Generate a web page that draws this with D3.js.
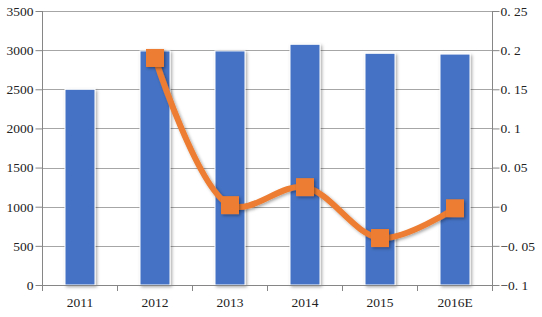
<!DOCTYPE html>
<html><head><meta charset="utf-8">
<script src="https://cdn.jsdelivr.net/npm/d3@7"></script>
<style>body{margin:0;background:#fff}svg{display:block}</style>
</head><body>
<svg id="c" width="542" height="317"></svg>
<script>
const categories = ["2011","2012","2013","2014","2015","2016E"];
const barValues = [2500, 2990, 2990, 3075, 2960, 2950];
const lineValues = [null, 0.19, 0.002, 0.025, -0.04, -0.002];
const leftTicks = [0,500,1000,1500,2000,2500,3000,3500];
const rightTicks = [-0.1,-0.05,0,0.05,0.1,0.15,0.2,0.25];

const svg = d3.select("#c");
const L = 42.5, R = 492.5, T = 11, B = 285;
const x = d3.scaleBand().domain(categories).range([L, R]).paddingInner(0.6).paddingOuter(0.3);
const xb = d3.scaleBand().domain(categories).range([L, R]);
const y = d3.scaleLinear().domain([0,3500]).range([B, T]);
const y2 = d3.scaleLinear().domain([-0.1,0.25]).range([B, T]);
const font = "'Liberation Serif','DejaVu Serif',serif";

const defs = svg.append("defs");
const f = defs.append("filter").attr("id","sh").attr("x","-30%").attr("y","-30%").attr("width","160%").attr("height","160%");
f.append("feDropShadow").attr("dx",1.5).attr("dy",1.5).attr("stdDeviation",1.5).attr("flood-color","#000").attr("flood-opacity",0.35);

// gridlines
svg.append("g").selectAll("line").data(leftTicks.slice(1)).join("line")
  .attr("x1",L).attr("x2",R).attr("y1",d=>Math.round(y(d))+0.5).attr("y2",d=>Math.round(y(d))+0.5)
  .attr("stroke","#a6a6a6").attr("stroke-width",1);

// bars
svg.append("g").selectAll("rect").data(categories).join("rect")
  .attr("x",d=>x(d)).attr("width",x.bandwidth())
  .attr("y",(d,i)=>y(barValues[i])).attr("height",(d,i)=>B-y(barValues[i]))
  .attr("fill","#4472c4").attr("stroke","#fff").attr("stroke-width",1).attr("filter","url(#sh)");

// axes
const axL = d3.axisLeft(y).tickValues(leftTicks).tickSize(7).tickFormat(d3.format("d"));
const gL = svg.append("g").attr("transform",`translate(${L},0)`).call(axL);
const axR = d3.axisRight(y2).tickValues(rightTicks).tickSize(7).tickFormat(d=>{
  let s = d3.format("")(+d.toFixed(2));
  return s.replace("-","\u2212").replace(".", ". ");
});
const gR = svg.append("g").attr("transform",`translate(${R},0)`).call(axR);
const axB = d3.axisBottom(xb).tickSize(0);
const gB = svg.append("g").attr("transform",`translate(0,${B})`).call(axB);
// bottom ticks at band boundaries
svg.append("g").selectAll("line").data(d3.range(categories.length+1)).join("line")
  .attr("x1",i=>L+i*xb.step()).attr("x2",i=>L+i*xb.step()).attr("y1",B).attr("y2",B+6)
  .attr("stroke","#868686");
[gL,gR,gB].forEach(g=>{
  g.selectAll("path,line").attr("stroke","#868686");
  g.selectAll("text").attr("font-family",font).attr("font-size",13.5).attr("fill","#222");
});
gL.select(".domain").attr("d",`M-0,${T}V${B}`);
gR.select(".domain").attr("d",`M0,${T}V${B}`);
gL.selectAll("text").attr("x",-9);
gR.selectAll("text").attr("x",8);
gB.selectAll("text").attr("y",22).attr("dy",0);

// line
const pts = categories.map((c,i)=>({c,v:lineValues[i]})).filter(d=>d.v!==null);
const line = d3.line().x(d=>xb(d.c)+xb.bandwidth()/2).y(d=>y2(d.v)).curve(d3.curveCatmullRom.alpha(0.5));
svg.append("path").datum(pts).attr("d",line).attr("fill","none")
  .attr("stroke","#ed7d31").attr("stroke-width",6).attr("stroke-linecap","round").attr("filter","url(#sh)");
svg.append("g").selectAll("rect").data(pts).join("rect")
  .attr("x",d=>xb(d.c)+xb.bandwidth()/2-9).attr("y",d=>y2(d.v)-9).attr("width",18).attr("height",18)
  .attr("fill","#ed7d31").attr("filter","url(#sh)");
</script>
</body></html>
